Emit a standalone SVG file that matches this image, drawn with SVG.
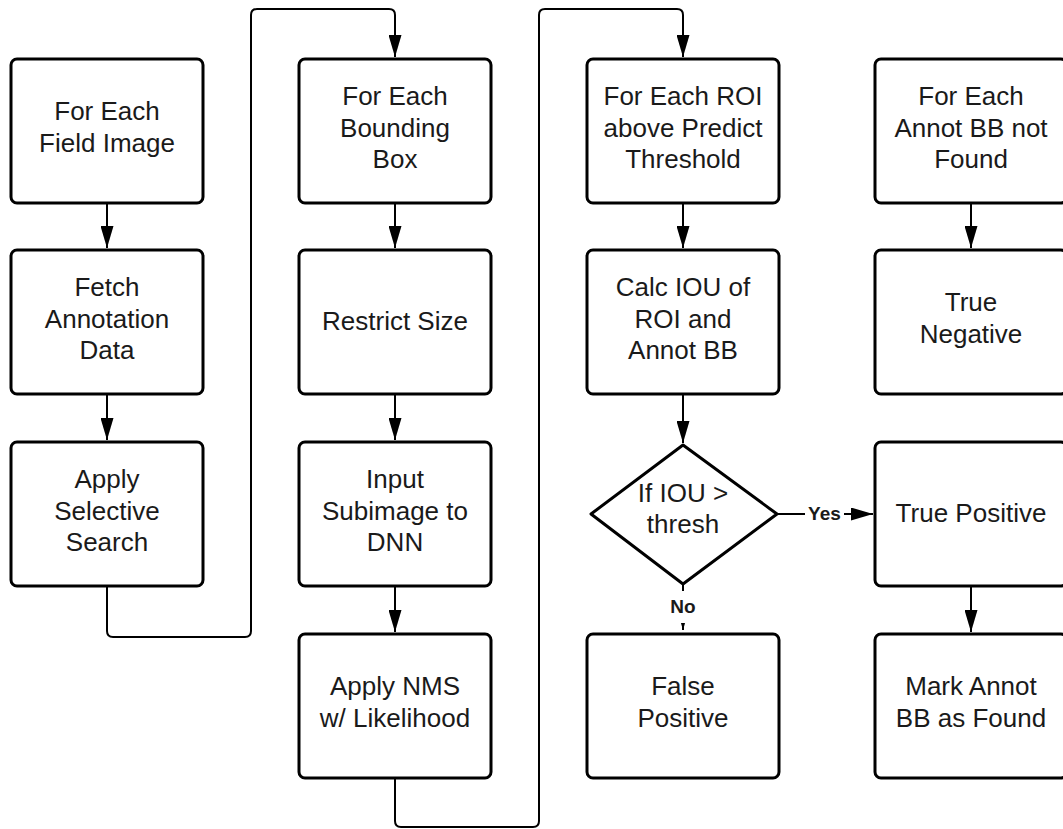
<svg xmlns="http://www.w3.org/2000/svg" width="1063" height="829" viewBox="0 0 1063 829">
<defs>
<style>
.box{fill:#fff;stroke:#000;stroke-width:3}
.t{font-family:"Liberation Sans",Arial,sans-serif;font-size:26px;fill:#1a1a1a;text-anchor:middle}
.lbl{font-family:"Liberation Sans",Arial,sans-serif;font-size:19px;font-weight:bold;fill:#1a1a1a;text-anchor:middle}
.c{fill:none;stroke:#000;stroke-width:2}
</style>
<marker id="ah" viewBox="0 0 22 13" refX="22" refY="6.5" markerWidth="22" markerHeight="13" markerUnits="userSpaceOnUse" orient="auto">
<path d="M0,0 L22,6.5 L0,13 Z" fill="#000"/>
</marker>
</defs>
<rect width="1063" height="829" fill="#fff"/>
<g id="connectors">
<path class="c" d="M107,203 V248" marker-end="url(#ah)"/>
<path class="c" d="M107,394 V440" marker-end="url(#ah)"/>
<path class="c" d="M395,203 V248" marker-end="url(#ah)"/>
<path class="c" d="M395,394 V440" marker-end="url(#ah)"/>
<path class="c" d="M395,586 V632" marker-end="url(#ah)"/>
<path class="c" d="M683,203 V248" marker-end="url(#ah)"/>
<path class="c" d="M683,394 V443" marker-end="url(#ah)"/>
<path class="c" d="M971,203 V248" marker-end="url(#ah)"/>
<path class="c" d="M971,586 V632" marker-end="url(#ah)"/>
<path class="c" d="M107,586 V631 Q107,637 113,637 H245 Q251,637 251,631 V15 Q251,9 257,9 H389 Q395,9 395,15 V57" marker-end="url(#ah)"/>
<path class="c" d="M395,779 V821 Q395,827 401,827 H533 Q539,827 539,821 V15 Q539,9 545,9 H677 Q683,9 683,15 V57" marker-end="url(#ah)"/>
<path class="c" d="M777,514 H873" marker-end="url(#ah)"/>
<path class="c" d="M683,584 V630" marker-end="url(#ah)"/>
<rect x="805" y="502" width="39" height="24" fill="#fff"/>
<text class="lbl" x="824.5" y="520">Yes</text>
<rect x="668" y="591" width="30" height="32" fill="#fff"/>
<text class="lbl" x="683" y="613">No</text>
</g>
<g id="n1"><rect class="box" x="11" y="59" width="192" height="144" rx="6"/><text class="t" x="107" y="120">For Each</text><text class="t" x="107" y="152">Field Image</text></g>
<g id="n2"><rect class="box" x="11" y="250" width="192" height="144" rx="6"/><text class="t" x="107" y="296">Fetch</text><text class="t" x="107" y="328">Annotation</text><text class="t" x="107" y="359">Data</text></g>
<g id="n3"><rect class="box" x="11" y="442" width="192" height="144" rx="6"/><text class="t" x="107" y="488">Apply</text><text class="t" x="107" y="520">Selective</text><text class="t" x="107" y="551">Search</text></g>
<g id="n4"><rect class="box" x="299" y="59" width="192" height="144" rx="6"/><text class="t" x="395" y="105">For Each</text><text class="t" x="395" y="137">Bounding</text><text class="t" x="395" y="168">Box</text></g>
<g id="n5"><rect class="box" x="299" y="250" width="192" height="144" rx="6"/><text class="t" x="395" y="330">Restrict Size</text></g>
<g id="n6"><rect class="box" x="299" y="442" width="192" height="144" rx="6"/><text class="t" x="395" y="488">Input</text><text class="t" x="395" y="520">Subimage to</text><text class="t" x="395" y="551">DNN</text></g>
<g id="n7"><rect class="box" x="299" y="634" width="192" height="144" rx="6"/><text class="t" x="395" y="695">Apply NMS</text><text class="t" x="395" y="727">w/ Likelihood</text></g>
<g id="n8"><rect class="box" x="587" y="59" width="192" height="144" rx="6"/><text class="t" x="683" y="105">For Each ROI</text><text class="t" x="683" y="137">above Predict</text><text class="t" x="683" y="168">Threshold</text></g>
<g id="n9"><rect class="box" x="587" y="250" width="192" height="144" rx="6"/><text class="t" x="683" y="296">Calc IOU of</text><text class="t" x="683" y="328">ROI and</text><text class="t" x="683" y="359">Annot BB</text></g>
<g id="n10"><path class="box" d="M683,445 L777,514 L683,584 L591,514 Z" stroke-linejoin="round"/><text class="t" x="683" y="502">If IOU &gt;</text><text class="t" x="683" y="533">thresh</text></g>
<g id="n11"><rect class="box" x="587" y="634" width="192" height="144" rx="6"/><text class="t" x="683" y="695">False</text><text class="t" x="683" y="727">Positive</text></g>
<g id="n12"><rect class="box" x="875" y="59" width="192" height="144" rx="6"/><text class="t" x="971" y="105">For Each</text><text class="t" x="971" y="137">Annot BB not</text><text class="t" x="971" y="168">Found</text></g>
<g id="n13"><rect class="box" x="875" y="250" width="192" height="144" rx="6"/><text class="t" x="971" y="311">True</text><text class="t" x="971" y="343">Negative</text></g>
<g id="n14"><rect class="box" x="875" y="442" width="192" height="144" rx="6"/><text class="t" x="971" y="522">True Positive</text></g>
<g id="n15"><rect class="box" x="875" y="634" width="192" height="144" rx="6"/><text class="t" x="971" y="695">Mark Annot</text><text class="t" x="971" y="727">BB as Found</text></g>
</svg>
